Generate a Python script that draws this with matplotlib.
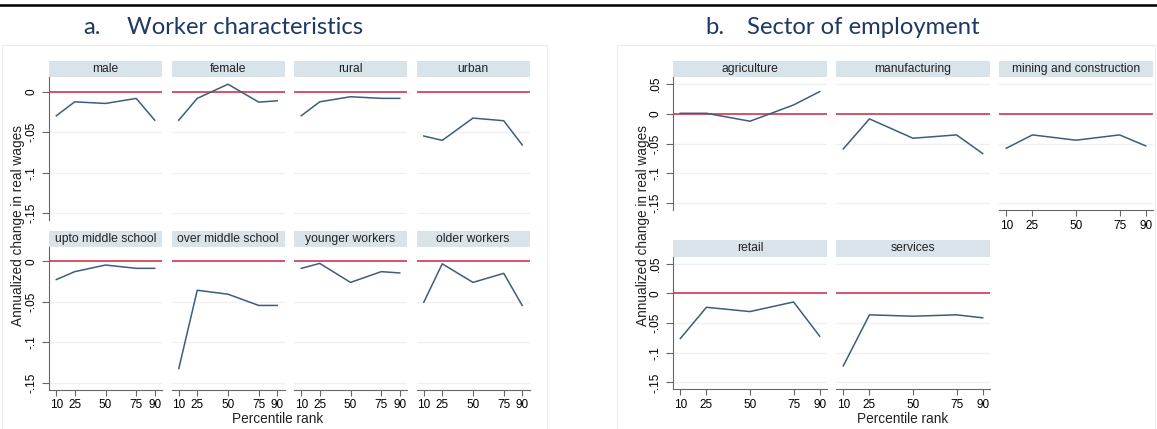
import matplotlib
matplotlib.use('Agg')
import matplotlib.pyplot as plt
from matplotlib.patches import Rectangle

plt.rcParams['font.family'] = ['Liberation Sans', 'DejaVu Sans']

W, H = 1157, 429

# Data
pct = [10, 25, 50, 75, 90]
pct_labels = ['10', '25', '50', '75', '90']

# a. Worker characteristics
male = [-0.0295, -0.0123, -0.0143, -0.0081, -0.035]
female = [-0.035, -0.008, 0.0095, -0.0127, -0.011]
rural = [-0.0295, -0.0123, -0.006, -0.008, -0.008]
urban = [-0.0546, -0.060, -0.0324, -0.0357, -0.0656]
upto_middle = [-0.0225, -0.0127, -0.0045, -0.0086, -0.0086]
over_middle = [-0.1325, -0.0357, -0.0406, -0.0545, -0.0545]
younger = [-0.0086, -0.0025, -0.026, -0.0127, -0.0143]
older = [-0.0505, -0.003, -0.026, -0.0148, -0.0545]
worker_names = ['male', 'female', 'rural', 'urban',
                'upto middle school', 'over middle school', 'younger workers', 'older workers']
worker_series = [male, female, rural, urban, upto_middle, over_middle, younger, older]
worker_yticks = [0, -0.05, -0.1, -0.15]
worker_ylabels = ['0', '-.05', '-.1', '-.15']

# b. Sector of employment
agriculture = [0.001, 0.001, -0.0123, 0.015, 0.0375]
manufacturing = [-0.0588, -0.0084, -0.0409, -0.0353, -0.0667]
mining = [-0.0577, -0.0353, -0.0442, -0.0353, -0.0538]
retail = [-0.076, -0.0233, -0.0305, -0.0143, -0.072]
services = [-0.122, -0.036, -0.0383, -0.036, -0.041]
sector_names = ['agriculture', 'manufacturing', 'mining and construction', 'retail', 'services']
sector_series = [agriculture, manufacturing, mining, retail, services]
sector_yticks = [0.05, 0, -0.05, -0.1, -0.15]
sector_ylabels = ['.05', '0', '-.05', '-.1', '-.15']

LINE = '#3d5d7e'
REF = '#d3475f'
STRIP = '#d8e3ea'
GRID = '#edf1f4'
AXC = '#666666'
TITLE = '#203864'

fig = plt.figure(figsize=(W / 100, H / 100), dpi=100)


def px_axes(x0, y0, x1, y1):
    return fig.add_axes([x0 / W, 1 - y1 / H, (x1 - x0) / W, (y1 - y0) / H])


def panel(x0, x1, strip_top, plot_top, plot_bottom, name, vals, ylim, yticks, ylabels,
          show_y, show_x):
    st = px_axes(x0, strip_top, x1, plot_top)
    st.set_facecolor(STRIP)
    st.set_xticks([])
    st.set_yticks([])
    for s in st.spines.values():
        s.set_visible(False)
    st.text(0.5, 0.5, name, ha='center', va='center', fontsize=8.7, color='#222222',
            transform=st.transAxes)

    ax = px_axes(x0, plot_top, x1, plot_bottom)
    w = x1 - x0
    pad = 7.3 * 80 / (w - 14.6)
    ax.set_xlim(10 - pad, 90 + pad)
    ax.set_ylim(*ylim)
    for t in yticks:
        ax.axhline(t, color=GRID, lw=1.0, zorder=0)
    ax.axhline(0, color=REF, lw=1.3, zorder=2)
    ax.plot(pct, vals, color=LINE, lw=1.1, zorder=3)
    for s in ['top', 'right']:
        ax.spines[s].set_visible(False)
    ax.spines['left'].set_visible(show_y)
    ax.spines['bottom'].set_visible(show_x)
    ax.spines['left'].set_color(AXC)
    ax.spines['bottom'].set_color(AXC)
    if show_y:
        ax.set_yticks(yticks)
        ax.set_yticklabels(ylabels, rotation=90, va='center')
        ax.tick_params(axis='y', length=5, width=0.8, color=AXC, pad=3, labelsize=8.5)
    else:
        ax.set_yticks([])
    if show_x:
        ax.set_xticks(pct)
        ax.set_xticklabels(pct_labels)
        ax.tick_params(axis='x', length=4, width=0.8, color=AXC, pad=3, labelsize=8.5)
    else:
        ax.set_xticks([])
    return ax


# panel a layout (pixels)
a_cols = [(49, 162), (171.5, 284.5), (294, 407), (416.5, 529.5)]
a_rows = [(61, 77.5, 220), (231, 247, 389.5)]
a_ylim = (-0.1585, 0.0178)
for i, (name, vals) in enumerate(zip(worker_names, worker_series)):
    r, c = divmod(i, 4)
    x0, x1 = a_cols[c]
    st, pt, pb = a_rows[r]
    panel(x0, x1, st, pt, pb, name, vals, a_ylim, worker_yticks, worker_ylabels,
          show_y=(c == 0), show_x=(r == 1))

# panel b layout (pixels)
b_cols = [(673, 827), (836, 990), (999, 1153)]
b_rows = [(61, 77, 210), (240, 256.7, 389.3)]
b_ylim = (-0.1615, 0.062)
for i, (name, vals) in enumerate(zip(sector_names, sector_series)):
    r, c = divmod(i, 3)
    x0, x1 = b_cols[c]
    st, pt, pb = b_rows[r]
    panel(x0, x1, st, pt, pb, name, vals, b_ylim, sector_yticks, sector_ylabels,
          show_y=(c == 0), show_x=(r == 1 or c == 2))

# faint panel frames
for x0, x1 in [(2, 547), (617, 1155)]:
    fig.patches.append(Rectangle((x0 / W, -0.01), (x1 - x0) / W, 1 - 45 / H + 0.01,
                                 transform=fig.transFigure, fill=False,
                                 edgecolor='#ececec', lw=0.8))

# top rule
fig.add_artist(plt.Line2D([0, 1], [1 - 5 / H, 1 - 5 / H], transform=fig.transFigure,
                          color='black', lw=1.8))

# panel titles
tfont = dict(fontsize=17.2, color=TITLE, va='center', family=['Lato', 'DejaVu Sans'])
fig.text(83 / W, 1 - 27 / H, 'a.', ha='left', **tfont)
fig.text(127 / W, 1 - 27 / H, 'Worker characteristics', ha='left', **tfont)
fig.text(705 / W, 1 - 27 / H, 'b.', ha='left', **tfont)
fig.text(747 / W, 1 - 27 / H, 'Sector of employment', ha='left', **tfont)

# axis titles
for x in [18, 643]:
    fig.text(x / W, 1 - 225 / H, 'Annualized change in real wages', rotation=90,
             ha='center', va='center', fontsize=9.8, color='#222222')
for x in [278, 903]:
    fig.text(x / W, 1 - 419 / H, 'Percentile rank', ha='center', va='center',
             fontsize=9.8, color='#222222')

fig.savefig('out.png', dpi=100)
